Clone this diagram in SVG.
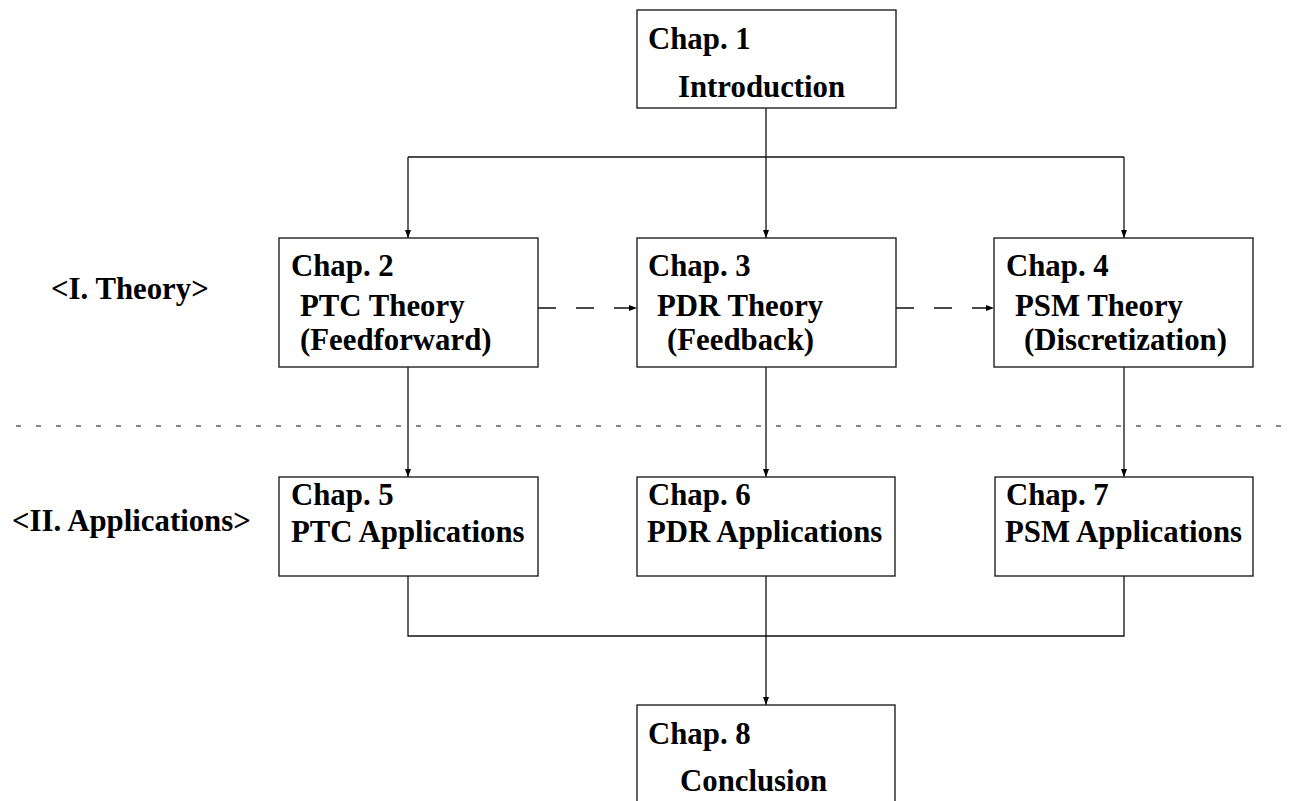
<svg xmlns="http://www.w3.org/2000/svg" width="1296" height="801" viewBox="0 0 1296 801">
<defs>
<marker id="ah" markerWidth="8" markerHeight="6" refX="8" refY="3" orient="auto" markerUnits="userSpaceOnUse">
<path d="M0,0 L8,3 L0,6 Z" fill="#000"/>
</marker>
<style>
.box{fill:#fff;stroke:#222;stroke-width:1.4}
.t{font-family:"Liberation Serif","Times New Roman",serif;font-weight:bold;font-size:30.8px;fill:#000}
.c{fill:none;stroke:#111;stroke-width:1.3}
.d{fill:none;stroke:#111;stroke-width:1.3;stroke-dasharray:18 20}
.sep{fill:none;stroke:#111;stroke-width:1.2;stroke-dasharray:5 15}
</style>
</defs>
<rect width="1296" height="801" fill="#fff"/>
<g id="labels">
<text class="t" x="51" y="299">&lt;I. Theory&gt;</text>
<text class="t" x="12" y="531">&lt;II. Applications&gt;</text>
</g>
<g id="separator">
<line class="sep" x1="16" y1="426" x2="1296" y2="426"/>
</g>
<g id="connectors">
<polyline class="c" points="766,108 766,157"/>
<polyline class="c" points="408,157 1124,157"/>
<line class="c" x1="408" y1="157" x2="408" y2="238" marker-end="url(#ah)"/>
<line class="c" x1="766" y1="157" x2="766" y2="238" marker-end="url(#ah)"/>
<line class="c" x1="1124" y1="157" x2="1124" y2="238" marker-end="url(#ah)"/>
<line class="d" x1="538" y1="308" x2="637" y2="308" marker-end="url(#ah)"/>
<line class="d" x1="896" y1="308" x2="994" y2="308" marker-end="url(#ah)"/>
<line class="c" x1="408" y1="367" x2="408" y2="477" marker-end="url(#ah)"/>
<line class="c" x1="766" y1="367" x2="766" y2="477" marker-end="url(#ah)"/>
<line class="c" x1="1124" y1="367" x2="1124" y2="477" marker-end="url(#ah)"/>
<polyline class="c" points="408,576 408,636 1124,636 1124,576"/>
<line class="c" x1="766" y1="576" x2="766" y2="705" marker-end="url(#ah)"/>
</g>
<g id="chap1">
<rect class="box" x="637" y="10" width="259" height="98"/>
<text class="t" x="648" y="49">Chap. 1</text>
<text class="t" x="678" y="97">Introduction</text>
</g>
<g id="chap2">
<rect class="box" x="279" y="238" width="259" height="129"/>
<text class="t" x="291" y="276">Chap. 2</text>
<text class="t" x="300" y="316">PTC Theory</text>
<text class="t" x="300" y="350">(Feedforward)</text>
</g>
<g id="chap3">
<rect class="box" x="637" y="238" width="259" height="129"/>
<text class="t" x="648" y="276">Chap. 3</text>
<text class="t" x="657" y="316">PDR Theory</text>
<text class="t" x="667" y="350">(Feedback)</text>
</g>
<g id="chap4">
<rect class="box" x="994" y="238" width="259" height="129"/>
<text class="t" x="1006" y="276">Chap. 4</text>
<text class="t" x="1015" y="316">PSM Theory</text>
<text class="t" x="1024" y="350">(Discretization)</text>
</g>
<g id="chap5">
<rect class="box" x="279" y="477" width="259" height="99"/>
<text class="t" x="291" y="505">Chap. 5</text>
<text class="t" x="291" y="542">PTC Applications</text>
</g>
<g id="chap6">
<rect class="box" x="637" y="477" width="258" height="99"/>
<text class="t" x="648" y="505">Chap. 6</text>
<text class="t" x="647" y="542">PDR Applications</text>
</g>
<g id="chap7">
<rect class="box" x="995" y="477" width="258" height="99"/>
<text class="t" x="1006" y="505">Chap. 7</text>
<text class="t" x="1005" y="542">PSM Applications</text>
</g>
<g id="chap8">
<rect class="box" x="637" y="705" width="258" height="110"/>
<text class="t" x="648" y="744">Chap. 8</text>
<text class="t" x="680" y="791">Conclusion</text>
</g>
</svg>
